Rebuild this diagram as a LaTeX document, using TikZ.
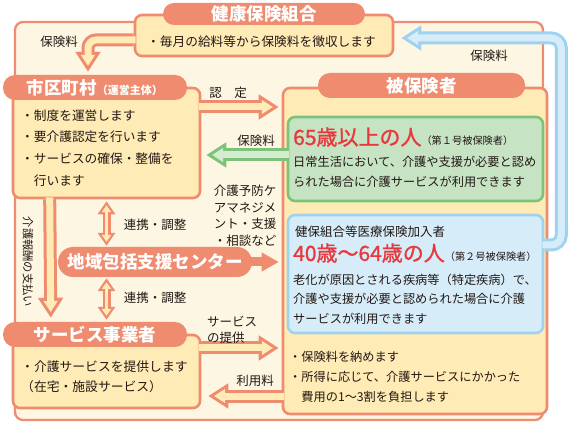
\documentclass[tikz,border=0pt]{standalone}
\usepackage{fontspec}
\setmainfont{Noto Sans CJK JP}
\newfontfamily\redfont{Noto Sans CJK JP}[FakeBold=1.2]
\usetikzlibrary{arrows.meta,calc}

\definecolor{salmon}{HTML}{EF8C6F}
\definecolor{boxyel}{HTML}{FFEBB5}
\definecolor{bgcream}{HTML}{FDF6E2}
\definecolor{ink}{HTML}{231815}
\definecolor{grline}{HTML}{7CC27A}
\definecolor{grfill}{HTML}{C6E3C3}
\definecolor{grarrow}{HTML}{D3ECD0}
\definecolor{blline}{HTML}{9FD2EF}
\definecolor{blfill}{HTML}{D6EDF9}
\definecolor{redtxt}{HTML}{E8383D}

\tikzset{
  body/.style={draw=salmon, fill=boxyel, line width=2.6pt, rounded corners=7pt, inner sep=0pt},
  pill/.style={fill=salmon, text=white, rounded corners=12pt, inner sep=0pt,
    font=\fontsize{17.5}{20}\selectfont\bfseries},
  txt/.style={inner sep=0pt, anchor=west, align=left, text=ink},
  lbl/.style={inner sep=0pt, text=ink, align=center, font=\fontsize{12.5}{16.5}\selectfont},
  fat/.style 2 args={preaction={draw=#1, line width=13pt, shorten <=0pt, shorten >=0pt,
      -{Triangle[length=20pt,width=24pt]}},
    draw=#2, line width=7pt, shorten <=-2pt, shorten >=5.8pt,
    -{Triangle[length=11pt,width=13.4pt]}},
  dbl/.style={preaction={draw=salmon, line width=8pt, shorten <=0pt, shorten >=0pt,
      {Triangle[length=13pt,width=17pt]}-{Triangle[length=13pt,width=17pt]}},
    draw=boxyel, line width=3.6pt, shorten <=4pt, shorten >=4pt,
    {Triangle[length=6.8pt,width=8.9pt]}-{Triangle[length=6.8pt,width=8.9pt]}},
}

\begin{document}
\begin{tikzpicture}[x=1pt, y=-1pt]
\useasboundingbox (0,0) rectangle (570,427);
\draw[salmon, fill=bgcream, line width=2.3pt, rounded corners=8pt] (15,22) rectangle (543,420);

% kenpo kumiai
\node[body, minimum width=258pt, minimum height=41pt] (kenpo) at (264,35.5) {};
\node[pill, minimum width=202pt, minimum height=22pt, rounded corners=11pt] (kenpopill) at (264,14) {健康保険組合};
\node[txt, font=\fontsize{12.7}{20}\selectfont] (kenpotxt) at (147,42) {・毎月の給料等から保険料を徴収します};

% shikuchoson
\node[body, minimum width=187pt, minimum height=110pt] (shi) at (106.5,143) {};
\node[pill, minimum width=184pt, minimum height=25pt] (shipill) at (95,87.5) {市区町村{\fontsize{11}{12}\selectfont（運営主体）}};
\node[txt, font=\fontsize{12.7}{21.7}\selectfont] (shitxt) at (21,148) {・制度を運営します\\・要介護認定を行います\\・サービスの確保・整備を\\\hphantom{・}行います};

% hihokensha
\node[body, minimum width=264pt, minimum height=326pt] (hi) at (415,251) {};
\node[pill, minimum width=207pt, minimum height=25pt] (hipill) at (421.5,85.5) {被保険者};
\node[body, draw=grline, fill=grfill, minimum width=255pt, minimum height=84pt] (green) at (415.5,159) {};
\node[txt, text=redtxt, font=\fontsize{21}{24}\redfont] (oldtxt) at (293,137) {65歳以上の人{\fontsize{10.2}{12}\normalfont\color{ink}（第１号被保険者）}};
\node[txt, font=\fontsize{12.2}{20.5}\selectfont] (greentxt) at (293,172) {日常生活において、介護や支援が必要と認め\\られた場合に介護サービスが利用できます};
\node[body, draw=blline, fill=blfill, minimum width=255pt, minimum height=118pt] (blue) at (415.5,274) {};
\node[txt, font=\fontsize{12.5}{14}\selectfont] (kenpoins) at (295,232) {健保組合等医療保険加入者};
\node[txt, text=redtxt, font=\fontsize{21}{24}\redfont] (midtxt) at (293,253) {40歳〜64歳の人{\fontsize{10.2}{12}\normalfont\color{ink}（第２号被保険者）}};
\node[txt, font=\fontsize{12.2}{19.5}\selectfont] (bluetxt) at (293,299) {老化が原因とされる疾病等（特定疾病）で、\\介護や支援が必要と認められた場合に介護\\サービスが利用できます};
\node[txt, font=\fontsize{12.2}{20}\selectfont] (hitxt) at (289,377) {・保険料を納めます\\・所得に応じて、介護サービスにかかった\\\hphantom{・}費用の1〜3割を負担します};

% jigyosha
\node[body, minimum width=187pt, minimum height=73pt] (jigyo) at (106.5,371.5) {};
\node[pill, minimum width=184pt, minimum height=25pt] (jigyopill) at (95,334.5) {サービス事業者};
\node[txt, font=\fontsize{12.8}{20}\selectfont] (jigyotxt) at (21,377) {・介護サービスを提供します\\（在宅・施設サービス）};

% center
\node[pill, minimum width=194pt, minimum height=30pt, rounded corners=15pt] (chiiki) at (155,262) {地域包括支援センター};

\draw[fat={salmon}{boxyel}, rounded corners=8pt] ($(kenpo.west)+(0,4.5)$) -| ($(shipill.north)+(-7,-3)$);
\draw[fat={salmon}{boxyel}] ($(shi.east)+(0,-36)$) -- ($(shi.east -| hi.west)+(-3,-36)$);
\draw[fat={grline}{grarrow}] ($(green.west)+(0,-4)$) -- ($(green.west -| shi.east)+(5,-4)$);
\draw[fat={blline}{blfill}, rounded corners=10pt] ($(blue.east)+(0,-29)$) -- ++(17,0) |- ($(kenpo.east)+(7,2.5)$);
\draw[fat={salmon}{boxyel}] ($(jigyo.east)+(0,-23.5)$) -- ($(jigyo.east -| hi.west)+(-3,-23.5)$);
\draw[fat={salmon}{boxyel}] ($(hi.west)+(0,145)$) -- ($(hi.west -| jigyo.east)+(7,145)$);
\draw[fat={salmon}{boxyel}] ($(shi.south west)+(38,0)$) -- ($(jigyopill.north west)+(48,-4)$);
\draw[dbl] ($(shi.south)+(0,2)$) -- ($(chiiki.north -| shi.south)+(0,-1)$);
\draw[dbl] ($(chiiki.south -| shi.south)+(0,1)$) -- ($(jigyopill.north -| shi.south)+(0,-2)$);
\draw[salmon, line width=9pt, -{Triangle[length=17pt,width=18pt]}] ($(chiiki.east)+(-3,0)$) -- ($(chiiki.east -| hi.west)+(-3,0)$);

\node[lbl] (fee1) at (59,42) {保険料};
\node[lbl] (nintei) at (228,93) {認　定};
\node[lbl] (fee2) at (256,141) {保険料};
\node[lbl] (fee3) at (489,56) {保険料};
\node[lbl] (care) at (245,216) {介護予防ケ\\アマネジメ\\ント・支援\\・相談など};
\node[lbl] (renkei1) at (155,225) {連携・調整};
\node[lbl] (renkei2) at (155,298) {連携・調整};
\node[lbl, rotate=-90, font=\fontsize{11.3}{12}\selectfont] (pay) at (28,262) {介護報酬の支払い};
\node[lbl, anchor=west, align=left, font=\fontsize{12.5}{15.5}\selectfont] (service) at (207,330) {サービス\\の提供};
\node[lbl] (usefee) at (255,381) {利用料};
\end{tikzpicture}
\end{document}
